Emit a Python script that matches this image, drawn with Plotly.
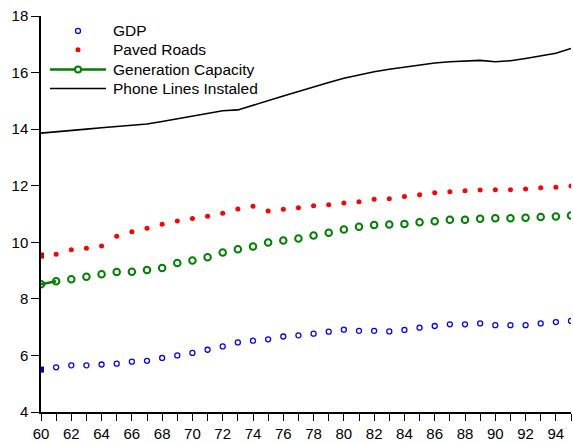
import plotly.graph_objects as go

years = list(range(60, 96))

gdp = [5.50, 5.58, 5.65, 5.65, 5.68, 5.71, 5.78, 5.81, 5.91, 6.00,
       6.09, 6.20, 6.32, 6.46, 6.52, 6.57, 6.67, 6.71, 6.77, 6.84,
       6.91, 6.87, 6.87, 6.85, 6.90, 6.98, 7.04, 7.10, 7.10, 7.13,
       7.07, 7.07, 7.07, 7.13, 7.18, 7.22]

paved_roads = [9.53, 9.58, 9.74, 9.79, 9.87, 10.21, 10.37, 10.50, 10.64, 10.75,
               10.84, 10.92, 11.03, 11.18, 11.27, 11.11, 11.17, 11.22, 11.29, 11.33,
               11.39, 11.43, 11.52, 11.54, 11.62, 11.68, 11.75, 11.79, 11.82, 11.85,
               11.86, 11.86, 11.88, 11.93, 11.95, 11.99]

generation_capacity = [8.52, 8.62, 8.69, 8.78, 8.87, 8.95, 8.96, 9.02, 9.09, 9.27,
                       9.36, 9.47, 9.64, 9.75, 9.85, 9.99, 10.06, 10.13, 10.24, 10.34,
                       10.45, 10.55, 10.61, 10.63, 10.65, 10.71, 10.74, 10.80, 10.80, 10.83,
                       10.85, 10.85, 10.87, 10.89, 10.91, 10.95]

phone_lines = [13.86, 13.90, 13.95, 14.00, 14.05, 14.10, 14.14, 14.18, 14.27, 14.37,
               14.46, 14.55, 14.65, 14.68, 14.85, 15.00, 15.17, 15.33, 15.50, 15.65,
               15.80, 15.92, 16.03, 16.12, 16.20, 16.28, 16.34, 16.38, 16.41, 16.43,
               16.38, 16.42, 16.50, 16.58, 16.68, 16.85]

series_names = ["GDP", "Paved Roads", "Generation Capacity", "Phone Lines Instaled"]
series_colors = ["#0000ff", "#ff0000", "#008000", "#000000"]

x_tick_vals = years
x_tick_text = [str(y) if y % 2 == 0 else "" for y in years]
y_tick_vals = [4, 6, 8, 10, 12, 14, 16, 18]

W, H = 573, 444
ML, MR, MT, MB = 41, 2, 16, 29
PW, PH = W - ML - MR, H - MT - MB


def px_to_paper_x(px):
    return (px - ML) / PW


def px_to_paper_y(py):
    return (H - MB - py) / PH


fig = go.Figure()

# GDP
fig.add_trace(go.Scatter(
    x=years[1:], y=gdp[1:], mode="markers", name=series_names[0],
    marker=dict(symbol="circle-open", size=5, color=series_colors[0],
                line=dict(width=1.3, color=series_colors[0])),
))
fig.add_trace(go.Scatter(
    x=years[:1], y=gdp[:1], mode="markers", name=series_names[0],
    marker=dict(symbol="square", size=6, color="#0000cc"),
))
# Paved roads
fig.add_trace(go.Scatter(
    x=years[1:], y=paved_roads[1:], mode="markers", name=series_names[1],
    marker=dict(symbol="circle", size=5, color=series_colors[1]),
))
fig.add_trace(go.Scatter(
    x=years[:1], y=paved_roads[:1], mode="markers", name=series_names[1],
    marker=dict(symbol="square", size=6, color="#cc0000"),
))
# Generation capacity
fig.add_trace(go.Scatter(
    x=years[:2], y=generation_capacity[:2], mode="lines",
    name=series_names[2], line=dict(color=series_colors[2], width=2.5),
))
fig.add_trace(go.Scatter(
    x=years, y=generation_capacity, mode="markers", name=series_names[2],
    marker=dict(symbol="circle-open", size=6.5, color=series_colors[2],
                line=dict(width=2)),
))
# Phone lines
fig.add_trace(go.Scatter(
    x=years, y=phone_lines, mode="lines", name=series_names[3],
    line=dict(color=series_colors[3], width=1.6),
))

# Legend (drawn manually to match the original spacing)
legend_rows_px = [31, 50, 70, 89]
sym_x0, sym_x1, sym_xc, text_x = 50, 106, 78, 111
shapes = []
annotations = []
for i, (name, color) in enumerate(zip(series_names, series_colors)):
    yp = px_to_paper_y(legend_rows_px[i])
    annotations.append(dict(
        x=px_to_paper_x(text_x), y=yp, xref="paper", yref="paper",
        text=name, showarrow=False, xanchor="left", yanchor="middle",
        font=dict(size=15.5, color="black"),
    ))
    if i >= 2:
        shapes.append(dict(
            type="line", xref="paper", yref="paper",
            x0=px_to_paper_x(sym_x0), x1=px_to_paper_x(sym_x1), y0=yp, y1=yp,
            line=dict(color=color, width=2.5 if i == 2 else 1.6),
        ))
    if i < 3:
        r = 2.5 if i < 2 else 3
        shapes.append(dict(
            type="circle", xref="paper", yref="paper",
            xsizemode="pixel", ysizemode="pixel",
            xanchor=px_to_paper_x(sym_xc), yanchor=yp,
            x0=-r, x1=r, y0=-r, y1=r,
            line=dict(color=color, width=1.3 if i == 0 else (0 if i == 1 else 2)),
            fillcolor="white" if i != 1 else color,
        ))

fig.update_layout(
    width=W, height=H,
    margin=dict(l=ML, r=MR, t=MT, b=MB),
    paper_bgcolor="white", plot_bgcolor="white",
    font=dict(family="Liberation Sans, Arial, sans-serif", size=15, color="black"),
    showlegend=False,
    shapes=shapes,
    annotations=annotations,
    xaxis=dict(range=[60, 95], tickvals=x_tick_vals, ticktext=x_tick_text,
               showgrid=False, zeroline=False, showline=True, linecolor="black",
               linewidth=1.5, ticks="outside", ticklen=7, tickwidth=1,
               tickcolor="black", tickfont=dict(size=15)),
    yaxis=dict(range=[4, 18], tickvals=y_tick_vals, showgrid=False,
               zeroline=False, showline=True, linecolor="black", linewidth=1.5,
               ticks="outside", ticklen=8, tickwidth=1, tickcolor="black",
               tickfont=dict(size=15)),
)

fig.write_html("out.html", config={"displayModeBar": False},
               post_script="document.body.style.margin='0';")
